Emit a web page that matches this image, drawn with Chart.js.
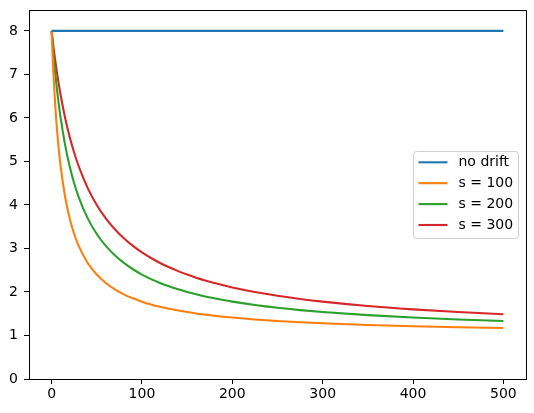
<!DOCTYPE html>
<html>
<head>
<meta charset="utf-8">
<script src="https://cdn.jsdelivr.net/npm/chart.js@4/dist/chart.umd.min.js"></script>
<style>
html,body{margin:0;padding:0;background:#fff;}
#wrap{width:534px;height:413px;}
</style>
</head>
<body>
<div id="wrap"><canvas id="c" width="534" height="413"></canvas></div>
<script>
// x positions (steps) at which the curves were read
const steps = [0, 2, 4, 6, 8, 10, 15, 20, 25, 30, 40, 50, 60, 70, 80, 90, 100, 110, 120, 130, 140, 150, 160, 170, 180, 190, 200, 225, 250, 275, 300, 350, 400, 450, 500];
const noDriftX = [0, 500];
const noDrift = [8, 8];
const s100 = [8, 7.034, 6.303, 5.730, 5.268, 4.889, 4.182, 3.692, 3.333, 3.059, 2.667, 2.400, 2.207, 2.061, 1.946, 1.854, 1.778, 1.714, 1.660, 1.614, 1.574, 1.538, 1.507, 1.479, 1.455, 1.432, 1.412, 1.368, 1.333, 1.304, 1.280, 1.241, 1.212, 1.189, 1.171];
const s200 = [8, 7.481, 7.034, 6.645, 6.303, 6.000, 5.375, 4.889, 4.500, 4.182, 3.692, 3.333, 3.059, 2.842, 2.667, 2.522, 2.400, 2.296, 2.207, 2.129, 2.061, 2.000, 1.946, 1.897, 1.854, 1.814, 1.778, 1.700, 1.636, 1.583, 1.538, 1.467, 1.412, 1.368, 1.333];
const s300 = [8, 7.646, 7.325, 7.034, 6.769, 6.526, 6.000, 5.565, 5.200, 4.889, 4.387, 4.000, 3.692, 3.442, 3.234, 3.059, 2.909, 2.780, 2.667, 2.567, 2.479, 2.400, 2.329, 2.265, 2.207, 2.154, 2.105, 2.000, 1.913, 1.840, 1.778, 1.677, 1.600, 1.538, 1.488];
const seriesLabels = ['no drift', 's = 100', 's = 200', 's = 300'];
const xTicks = [0, 100, 200, 300, 400, 500];
const yTicks = [0, 1, 2, 3, 4, 5, 6, 7, 8];

const colors = ['#1f77b4', '#ff7f0e', '#2ca02c', '#d62728'];
const FONT = 'DejaVu Sans';
const FS = 14;

function pts(xs, ys) { return xs.map((x, i) => ({x: x, y: ys[i]})); }

const datasets = [
  pts(noDriftX, noDrift), pts(steps, s100), pts(steps, s200), pts(steps, s300)
].map((d, i) => ({
  label: seriesLabels[i],
  data: d,
  borderColor: colors[i],
  backgroundColor: colors[i],
  borderWidth: 2.1,
  pointRadius: 0,
  fill: false,
  cubicInterpolationMode: 'monotone'
}));

const frameAndLegend = {
  id: 'frameAndLegend',
  afterDraw(chart) {
    const ctx = chart.ctx;
    const a = chart.chartArea;
    ctx.save();
    ctx.strokeStyle = '#000';
    ctx.lineWidth = 1;
    ctx.beginPath();
    ctx.moveTo(Math.round(a.left) + 0.5, Math.round(a.top) + 0.5);
    ctx.lineTo(Math.round(a.right) + 0.5, Math.round(a.top) + 0.5);
    ctx.lineTo(Math.round(a.right) + 0.5, Math.round(a.bottom) + 0.5);
    ctx.stroke();

    // legend box (matplotlib style)
    const bx = 413.5, by = 151.5, bw = 105, bh = 87, r = 3;
    ctx.beginPath();
    ctx.moveTo(bx + r, by);
    ctx.lineTo(bx + bw - r, by);
    ctx.arcTo(bx + bw, by, bx + bw, by + r, r);
    ctx.lineTo(bx + bw, by + bh - r);
    ctx.arcTo(bx + bw, by + bh, bx + bw - r, by + bh, r);
    ctx.lineTo(bx + r, by + bh);
    ctx.arcTo(bx, by + bh, bx, by + bh - r, r);
    ctx.lineTo(bx, by + r);
    ctx.arcTo(bx, by, bx + r, by, r);
    ctx.closePath();
    ctx.fillStyle = 'rgba(255,255,255,0.8)';
    ctx.fill();
    ctx.strokeStyle = '#d0d0d0';
    ctx.stroke();

    ctx.font = FS + 'px "' + FONT + '"';
    ctx.textBaseline = 'middle';
    ctx.textAlign = 'left';
    chart.data.datasets.forEach((ds, i) => {
      const y = 162.3 + i * 20.9;
      ctx.strokeStyle = ds.borderColor;
      ctx.lineWidth = 2.1;
      ctx.beginPath();
      ctx.moveTo(418.5, y);
      ctx.lineTo(447.5, y);
      ctx.stroke();
      ctx.fillStyle = '#000';
      ctx.fillText(ds.label, 458.5, y + 0.5);
    });
    ctx.restore();
  }
};

new Chart(document.getElementById('c'), {
  type: 'line',
  data: { datasets: datasets },
  plugins: [frameAndLegend],
  options: {
    responsive: false,
    animation: false,
    devicePixelRatio: 1,
    layout: { padding: { top: 10, right: 8, left: 0, bottom: 0 } },
    plugins: { legend: { display: false }, tooltip: { enabled: false } },
    scales: {
      x: {
        type: 'linear',
        min: -25,
        max: 525,
        afterBuildTicks: (s) => { s.ticks = xTicks.map(v => ({value: v})); },
        afterFit: (s) => { s.height = 34; s.paddingLeft = 0; s.paddingRight = 0; },
        grid: { drawOnChartArea: false, drawTicks: true, tickLength: 5, tickColor: '#000', tickWidth: 1 },
        border: { display: true, color: '#000', width: 1 },
        ticks: { color: '#000', font: { family: FONT, size: FS }, padding: 2, maxRotation: 0, autoSkip: false }
      },
      y: {
        type: 'linear',
        min: 0,
        max: 8.48,
        afterBuildTicks: (s) => { s.ticks = yTicks.map(v => ({value: v})); },
        afterFit: (s) => { s.width = 29; s.paddingTop = 0; s.paddingBottom = 0; },
        grid: { drawOnChartArea: false, drawTicks: true, tickLength: 5, tickColor: '#000', tickWidth: 1 },
        border: { display: true, color: '#000', width: 1 },
        ticks: { color: '#000', font: { family: FONT, size: FS }, padding: 6, autoSkip: false }
      }
    }
  }
});
</script>
</body>
</html>
